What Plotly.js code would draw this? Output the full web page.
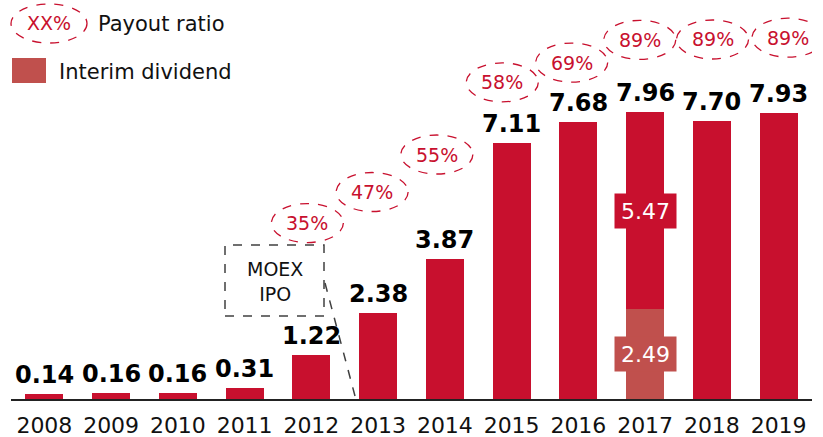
<!DOCTYPE html>
<html>
<head>
<meta charset="utf-8">
<script src="https://cdn.plot.ly/plotly-3.0.1.min.js"></script>
<style>html,body{margin:0;padding:0;background:#fff;}#chart{width:823px;height:437px;}</style>
</head>
<body>
<div id="chart"></div>
<script>
// ---- data ----
const years = ['2008','2009','2010','2011','2012','2013','2014','2015','2016','2017','2018','2019'];
const interimDividend = [0,0,0,0,0,0,0,0,0,2.49,0,0];
const finalDividend = [0.14,0.16,0.16,0.31,1.22,2.38,3.87,7.11,7.68,5.47,7.70,7.93];
const payoutRatio = [null,null,null,null,35,47,55,58,69,89,89,89];

// ---- layout helpers (positions/styles) ----
const RED = '#c8102e';
const INTERIM = '#c0504d';
const FONT = 'DejaVu Sans, Verdana, sans-serif';
const W = 823, H = 437, ML = 11, MR = 11, MT = 0, MB = 38;
const PW = W - ML - MR, PH = H - MT - MB;
const px = x => (x - ML) / PW;
const py = y => (H - MB - y) / PH;
const idx = years.map((_, i) => i);
// payout ellipse centres (category index offset, y in data units)
const payoutPos = [null,null,null,null,[-0.06,4.88],[-0.09,5.74],[-0.12,6.78],[-0.14,8.78],[-0.10,9.33],[-0.08,9.96],[0.01,9.97],[0.14,10.02]];

const traces = [
  {type:'bar', x: idx, y: interimDividend, marker:{color: INTERIM}, hoverinfo:'skip', showlegend:false},
  {type:'bar', x: idx, y: finalDividend, marker:{color: RED}, hoverinfo:'skip', showlegend:false}
];

const annotations = [];
const shapes = [];

years.forEach((yr, i) => {
  const total = interimDividend[i] + finalDividend[i];
  annotations.push({x: i, y: total, xref:'x', yref:'y', xanchor:'center', yanchor:'bottom', yshift: 3, showarrow:false,
    text: '<b>' + total.toFixed(2) + '</b>', font:{family: FONT, size: 24, color:'#000'}});
  if (interimDividend[i] > 0) {
    annotations.push({x: i, y: interimDividend[i] / 2, xref:'x', yref:'y', xanchor:'center', yanchor:'middle', showarrow:false,
      text: interimDividend[i].toFixed(2), bgcolor: INTERIM, width: 59, height: 32,
      font:{family: FONT, size: 22, color:'#fff'}});
    annotations.push({x: i, y: interimDividend[i] + finalDividend[i] / 2, xref:'x', yref:'y', xanchor:'center', yanchor:'middle', showarrow:false,
      text: finalDividend[i].toFixed(2), bgcolor: RED, width: 59, height: 32,
      font:{family: FONT, size: 22, color:'#fff'}});
  }
  if (payoutRatio[i] !== null) {
    const p = payoutPos[i];
    const cx = i + p[0];
    shapes.push({type:'circle', xref:'x', yref:'y', xsizemode:'pixel', ysizemode:'pixel',
      xanchor: cx, yanchor: p[1], x0:-36, x1:36, y0:-19.5, y1:19.5,
      line:{color: RED, width: 1.3, dash:'dash'}});
    annotations.push({x: cx, y: p[1], xref:'x', yref:'y', xanchor:'center', yanchor:'middle', showarrow:false,
      text: payoutRatio[i] + '%', font:{family: FONT, size: 19, color: RED}});
  }
});

// legend
shapes.push({type:'circle', xref:'paper', yref:'paper', x0: px(11), x1: px(87), y0: py(43), y1: py(4),
  line:{color: RED, width: 1.3, dash:'dash'}});
annotations.push({x: px(49), y: py(23), xref:'paper', yref:'paper', xanchor:'center', yanchor:'middle', showarrow:false, text:'XX%',
  font:{family: FONT, size: 19, color: RED}});
annotations.push({x: px(96), y: py(24), xref:'paper', yref:'paper', xanchor:'left', yanchor:'middle', showarrow:false, text:'Payout ratio',
  font:{family: FONT, size: 21, color:'#111'}});
shapes.push({type:'rect', xref:'paper', yref:'paper', x0: px(12), x1: px(46), y0: py(83), y1: py(58),
  fillcolor: INTERIM, line:{width:0}});
annotations.push({x: px(57), y: py(72), xref:'paper', yref:'paper', xanchor:'left', yanchor:'middle', showarrow:false, text:'Interim dividend',
  font:{family: FONT, size: 21, color:'#111'}});

// MOEX IPO callout
shapes.push({type:'rect', xref:'paper', yref:'paper', x0: px(225), x1: px(324), y0: py(316), y1: py(245),
  line:{color:'#404040', width: 1.5, dash:'dash'}});
shapes.push({type:'line', xref:'paper', yref:'paper', x0: px(325), y0: py(283), x1: px(355), y1: py(396),
  line:{color:'#404040', width: 1.5, dash:'dash'}});
annotations.push({x: px(274.5), y: py(281), xref:'paper', yref:'paper', xanchor:'center', yanchor:'middle', showarrow:false, text:'MOEX<br>IPO',
  font:{family: FONT, size: 19, color:'#111'}});

const layout = {
  width: W, height: H,
  margin:{l: ML, r: MR, t: MT, b: MB, pad: 0},
  paper_bgcolor:'#fff', plot_bgcolor:'#fff',
  barmode:'stack', bargap: 0.43,
  showlegend:false,
  xaxis:{range:[-0.5, 11.5], tickmode:'array', tickvals: idx, ticktext: years,
    showline:true, linecolor:'#222', linewidth:1.5, ticks:'', showgrid:false, zeroline:false,
    ticklabelstandoff: 6,
    tickfont:{family: FONT, size: 22, color:'#111'}, fixedrange:true},
  yaxis:{range:[0, 11.065], visible:false, showgrid:false, zeroline:false, fixedrange:true},
  shapes: shapes,
  annotations: annotations
};

Plotly.newPlot('chart', traces, layout, {displayModeBar:false, staticPlot:true});
</script>
</body>
</html>
